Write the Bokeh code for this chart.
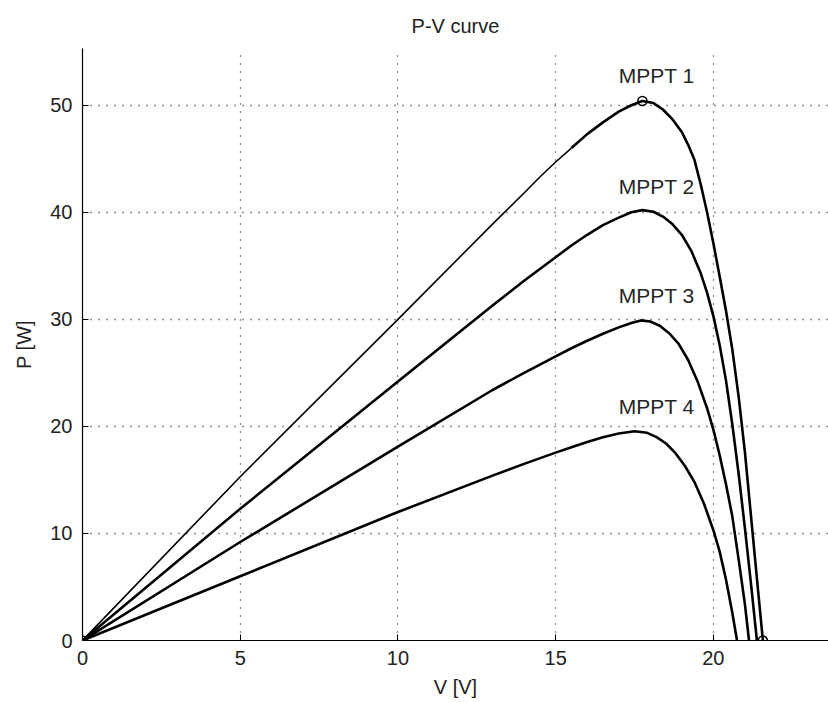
from bokeh.plotting import figure
from bokeh.models import Range1d, Label, FixedTicker
from bokeh.embed import file_html
from bokeh.resources import INLINE

# ---- data ----
v1 = [0, 5, 10, 13.0, 14.0, 14.5, 15.0, 15.5, 16.0, 16.5, 17.0, 17.4, 17.75, 18.1, 18.4, 18.7, 19.0, 19.2,
      19.4, 19.6, 19.8, 20.0, 20.2, 20.4, 20.6, 20.8, 21.0, 21.2, 21.4, 21.57]
p1 = [0, 15.3, 30.0, 38.9, 41.8, 43.3, 44.7, 46.0, 47.3, 48.4, 49.4, 50.0, 50.4, 50.2, 49.6, 48.7, 47.5, 46.3,
      44.9, 42.6, 40.0, 37.1, 34.0, 30.8, 27.2, 22.8, 17.6, 11.4, 5.2, 0]

v2 = [0, 5, 10, 13.0, 14.0, 14.5, 15.0, 15.5, 16.0, 16.5, 17.0, 17.4, 17.75, 18.1, 18.4, 18.7, 19.0, 19.3,
      19.6, 19.8, 20.0, 20.2, 20.4, 20.6, 20.8, 21.0, 21.2, 21.38]
p2 = [0, 12.3, 24.2, 31.3, 33.6, 34.7, 35.8, 36.9, 37.9, 38.8, 39.5, 40.0, 40.2, 40.05, 39.6, 38.9, 37.9, 36.4,
      34.3, 32.5, 30.3, 27.6, 24.3, 20.2, 15.6, 10.5, 5.1, 0]

v3 = [0, 5, 10, 13.0, 14.0, 15.0, 15.5, 16.0, 16.5, 17.0, 17.4, 17.7, 18.0, 18.3, 18.6, 18.9, 19.2,
      19.5, 19.8, 20.0, 20.2, 20.4, 20.6, 20.8, 21.0, 21.13]
p3 = [0, 9.2, 18.1, 23.4, 25.0, 26.55, 27.3, 28.0, 28.65, 29.25, 29.65, 29.9, 29.8, 29.4, 28.7, 27.7, 26.2,
      24.2, 21.7, 19.7, 17.3, 14.6, 11.6, 7.6, 3.4, 0]

v4 = [0, 5, 10, 13.0, 14.0, 15.0, 15.5, 16.0, 16.5, 17.0, 17.5, 17.9, 18.2, 18.5, 18.8, 19.1, 19.4, 19.7,
      20.0, 20.2, 20.4, 20.6, 20.75]
p4 = [0, 6.0, 12.0, 15.4, 16.5, 17.55, 18.05, 18.55, 18.98, 19.33, 19.55, 19.4, 19.0, 18.4, 17.5, 16.3, 14.8, 12.8,
      10.3, 8.3, 5.7, 2.6, 0]

marker_v = [0, 17.75, 21.57]
marker_p = [0, 50.4, 0]

labels = ["MPPT 1", "MPPT 2", "MPPT 3", "MPPT 4"]
label_v = [18.2, 18.2, 18.2, 18.2]
label_p = [52.75, 42.4, 32.2, 21.9]

title_text = "P-V curve"

x_ticks = [0, 5, 10, 15, 20]
y_ticks = [0, 10, 20, 30, 40, 50]

FONT = "Liberation Sans"
X_END = 23.65
Y_END = 55.3

p = figure(width=828, height=700, output_backend="svg", toolbar_location=None,
           x_range=Range1d(0, X_END), y_range=Range1d(0, Y_END),
           min_border_left=82, min_border_right=0, min_border_top=47, min_border_bottom=60,
           title=title_text)
p.outline_line_color = None
p.background_fill_color = "white"
p.border_fill_color = "white"

p.title.align = "center"
p.title.text_font = FONT
p.title.text_font_size = "20px"
p.title.text_line_height = 0.8
p.title.text_font_style = "normal"
p.title.text_color = "#222222"
p.title.standoff = 24

for ax in (p.xaxis[0], p.yaxis[0]):
    ax.axis_line_color = "black"
    ax.axis_line_width = 1.2
    ax.major_tick_in = 6
    ax.major_tick_out = 0
    ax.minor_tick_line_color = None
    ax.major_tick_line_color = "black"
    ax.major_label_text_font = FONT
    ax.major_label_text_font_size = "20px"
    ax.major_label_text_color = "#222222"
    ax.axis_label_text_font = FONT
    ax.axis_label_text_font_size = "20px"
    ax.axis_label_text_font_style = "normal"
    ax.axis_label_text_color = "#222222"

p.xaxis.ticker = FixedTicker(ticks=x_ticks)
p.yaxis.ticker = FixedTicker(ticks=y_ticks)
p.xaxis.axis_label = "V [V]"
p.yaxis.axis_label = "P [W]"
p.xaxis.major_label_standoff = 10
p.xaxis.axis_label_standoff = 8
p.yaxis.major_label_standoff = 10
p.yaxis.axis_label_standoff = 12

p.grid.grid_line_color = "#222222"
p.grid.grid_line_dash = "1 7"
p.grid.grid_line_width = 1.3
p.xgrid.ticker = FixedTicker(ticks=[5, 10, 15, 20])
p.ygrid.ticker = FixedTicker(ticks=[10, 20, 30, 40, 50])

# MPPT 1 curve: thin on the rising straight part, thick around the knee
split = 7
p.line(v1[:split + 1], p1[:split + 1], line_color="black", line_width=1.6, line_join="round")
p.line(v1[split:], p1[split:], line_color="black", line_width=2.6, line_join="round")
for vv, pp in ((v2, p2), (v3, p3), (v4, p4)):
    p.line(vv, pp, line_color="black", line_width=2.6, line_join="round")

p.scatter(marker_v, marker_p, marker="circle", size=9, line_color="black",
          line_width=1.6, fill_alpha=0)

for txt, lv, lp in zip(labels, label_v, label_p):
    p.add_layout(Label(x=lv, y=lp, text=txt, text_align="center", text_baseline="middle",
                       text_font=FONT, text_font_size="21px", text_color="#262626"))

open("out.html", "w").write(file_html(p, INLINE))
